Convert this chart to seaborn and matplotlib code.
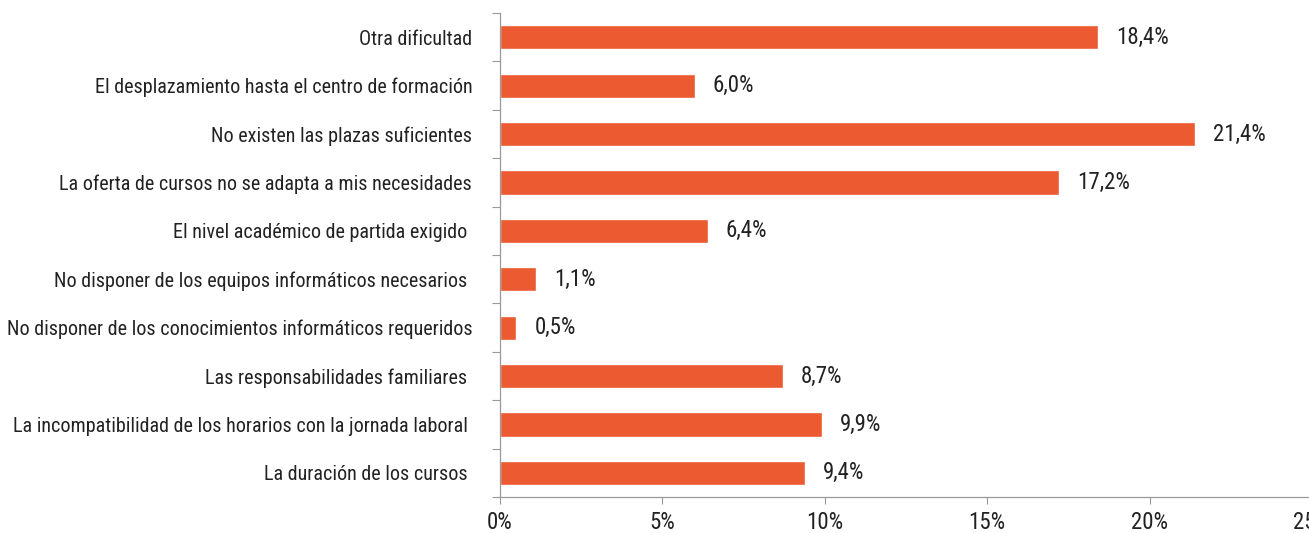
import matplotlib
matplotlib.use("Agg")
import matplotlib.pyplot as plt
import seaborn as sns
import pandas as pd
from matplotlib.ticker import FixedLocator, FuncFormatter
from matplotlib import font_manager

categories = [
    "Otra dificultad",
    "El desplazamiento hasta el centro de formación",
    "No existen las plazas suficientes",
    "La oferta de cursos no se adapta a mis necesidades",
    "El nivel académico de partida exigido ",
    "No disponer de los equipos informáticos necesarios ",
    "No disponer de los conocimientos informáticos requeridos",
    "Las responsabilidades familiares ",
    "La incompatibilidad de los horarios con la jornada laboral ",
    "La duración de los cursos ",
]
values = [18.4, 6.0, 21.4, 17.2, 6.4, 1.1, 0.5, 8.7, 9.9, 9.4]
value_labels = ["18,4%", "6,0%", "21,4%", "17,2%", "6,4%", "1,1%", "0,5%", "8,7%", "9,9%", "9,4%"]
x_ticks = [0, 5, 10, 15, 20, 25]

sns.set_theme(style="white")
available = {f.name for f in font_manager.fontManager.ttflist}
family = [f for f in ["Liberation Sans Narrow", "Roboto Condensed", "Liberation Sans", "DejaVu Sans"] if f in available]
plt.rcParams["font.family"] = family

df = pd.DataFrame({"categoria": categories, "valor": values})

fig = plt.figure(figsize=(13.09, 5.33), dpi=100)
ax = fig.add_axes([500 / 1309, 1 - 497 / 533, 812 / 1309, 484 / 533])

bar_color = "#EC5A31"
sns.barplot(data=df, x="valor", y="categoria", orient="h", color=bar_color,
            width=0.5, saturation=1, ax=ax)

ax.set_xlim(0, 25)
ax.set_ylim(len(categories) - 0.5, -0.5)
ax.set_xlabel("")
ax.set_ylabel("")

for i, (v, lab) in enumerate(zip(values, value_labels)):
    ax.annotate(lab, xy=(v, i), xytext=(13, 0), textcoords="offset points",
                ha="left", va="center", fontsize=16.5, color="#222222")

ax.xaxis.set_major_locator(FixedLocator(x_ticks))
ax.xaxis.set_major_formatter(FuncFormatter(lambda x, p: f"{x:.0f}%"))
ax.tick_params(axis="x", which="major", direction="out", length=5, width=0.8,
               color="#999999", labelsize=16.5, labelcolor="#222222", pad=5, bottom=True)

ax.yaxis.set_minor_locator(FixedLocator([k - 0.5 for k in range(len(categories) + 1)]))
ax.tick_params(axis="y", which="major", length=0, labelsize=14.5, labelcolor="#222222", pad=20)
ax.tick_params(axis="y", which="minor", direction="out", length=6, width=0.8,
               color="#999999", left=True)

for side in ["top", "right"]:
    ax.spines[side].set_visible(False)
for side in ["left", "bottom"]:
    ax.spines[side].set_color("#999999")
    ax.spines[side].set_linewidth(0.9)

fig.savefig("out.png", dpi=100)
